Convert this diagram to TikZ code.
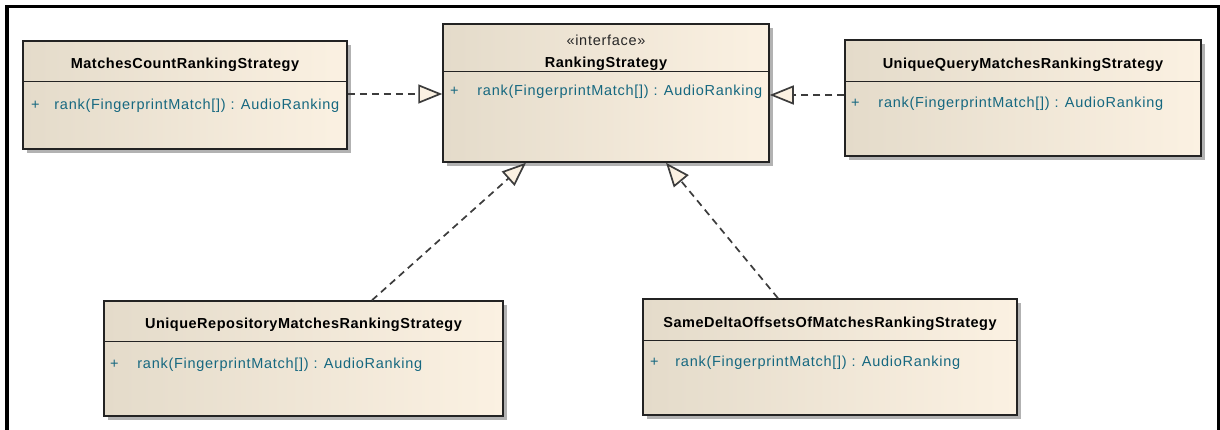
\documentclass[tikz,border=0pt]{standalone}
\usepackage{fontspec}
\setmainfont{Liberation Sans}
\newfontfamily\namefont{Liberation Sans}[LetterSpace=3.5]
\newfontfamily\methfont{Liberation Sans}[LetterSpace=5]
\usetikzlibrary{arrows.meta,shadows}
\definecolor{boxL}{RGB}{228,219,202}
\definecolor{boxR}{RGB}{251,241,226}
\definecolor{methc}{RGB}{22,104,128}
\definecolor{edgec}{RGB}{35,35,35}
\definecolor{dashc}{RGB}{60,60,60}
\tikzset{
  umlbox/.style={draw=edgec, line width=1.5pt, rectangle, inner sep=0pt,
    left color=boxL, right color=boxR,
    drop shadow={shadow xshift=4pt, shadow yshift=-4pt, fill=black!30, opacity=1}},
  cname/.style={inner sep=0pt, anchor=base, font=\namefont\bfseries\fontsize{14.5}{16}\selectfont, text=black},
  stereo/.style={inner sep=0pt, anchor=base, font=\methfont\fontsize{14.5}{16}\selectfont, text=black!85},
  meth/.style={inner sep=0pt, anchor=base west, font=\methfont\fontsize{14.5}{16}\selectfont, text=methc},
  plus/.style={inner sep=0pt, anchor=base, font=\methfont\fontsize{14.5}{16}\selectfont, text=methc},
  sepline/.style={draw=edgec, line width=1.3pt},
  real/.style={draw=dashc, line width=1.7pt, dash pattern=on 7pt off 5pt,
    -{Triangle[length=24pt,width=19pt,fill=boxR]}},
}
\begin{document}
\begin{tikzpicture}[x=1pt,y=-1pt]
\useasboundingbox (0,0) rectangle (1220,430);
\clip (0,0) rectangle (1220,430);
\fill[white] (0,0) rectangle (1220,430);
% frame
\draw[line width=3.5pt] (7,440) -- (7,6.5) -- (1218.5,6.5) -- (1218.5,440);

% boxes
\node[umlbox, minimum width=324pt, minimum height=108pt] (m1) at (185,95) {};
\node[umlbox, minimum width=326pt, minimum height=138pt] (m2) at (606,93) {};
\node[umlbox, minimum width=356pt, minimum height=116pt] (m3) at (1023,98) {};
\node[umlbox, minimum width=399pt, minimum height=115pt] (m4) at (303.5,358.5) {};
\node[umlbox, minimum width=374pt, minimum height=116pt] (m5) at (830,357) {};

% separators
\draw[sepline] ([yshift=-41pt]m1.north west) -- ([yshift=-41pt]m1.north east);
\draw[sepline] ([yshift=-48pt]m2.north west) -- ([yshift=-48pt]m2.north east);
\draw[sepline] ([yshift=-42pt]m3.north west) -- ([yshift=-42pt]m3.north east);
\draw[sepline] ([yshift=-41pt]m4.north west) -- ([yshift=-41pt]m4.north east);
\draw[sepline] ([yshift=-42pt]m5.north west) -- ([yshift=-42pt]m5.north east);

% names
\node[cname] (n1) at ([yshift=-28pt]m1.north) {MatchesCountRankingStrategy};
\node[stereo] (s2) at ([yshift=-22pt]m2.north) {«interface»};
\node[cname] (n2) at ([yshift=-44pt]m2.north) {RankingStrategy};
\node[cname] (n3) at ([yshift=-29pt]m3.north) {UniqueQueryMatchesRankingStrategy};
\node[cname] (n4) at ([yshift=-28pt]m4.north) {UniqueRepositoryMatchesRankingStrategy};
\node[cname] (n5) at ([yshift=-29pt]m5.north) {SameDeltaOffsetsOfMatchesRankingStrategy};

% methods
\node[plus] (p1) at ([xshift=13pt,yshift=-69pt]m1.north west) {+};
\node[meth] (r1) at ([xshift=32pt,yshift=-69pt]m1.north west) {rank(FingerprintMatch[]) : AudioRanking};
\node[plus] (p2) at ([xshift=12pt,yshift=-72pt]m2.north west) {+};
\node[meth] (r2) at ([xshift=35pt,yshift=-72pt]m2.north west) {rank(FingerprintMatch[]) : AudioRanking};
\node[plus] (p3) at ([xshift=11pt,yshift=-68pt]m3.north west) {+};
\node[meth] (r3) at ([xshift=34pt,yshift=-68pt]m3.north west) {rank(FingerprintMatch[]) : AudioRanking};
\node[plus] (p4) at ([xshift=11pt,yshift=-68pt]m4.north west) {+};
\node[meth] (r4) at ([xshift=34pt,yshift=-68pt]m4.north west) {rank(FingerprintMatch[]) : AudioRanking};
\node[plus] (p5) at ([xshift=12pt,yshift=-68pt]m5.north west) {+};
\node[meth] (r5) at ([xshift=33pt,yshift=-68pt]m5.north west) {rank(FingerprintMatch[]) : AudioRanking};

% realizations
\coordinate (a1) at ([yshift=1pt]m1.east);
\draw[real] (a1) -- (a1 -| m2.west);
\coordinate (a3) at ([yshift=3pt]m3.west);
\draw[real] (a3) -- (a3 -| m2.east);
\draw[real] ([xshift=68.5pt]m4.north) -- ([xshift=-80pt]m2.south);
\draw[real] ([xshift=-52pt]m5.north) -- ([xshift=60pt]m2.south);
\end{tikzpicture}
\end{document}
